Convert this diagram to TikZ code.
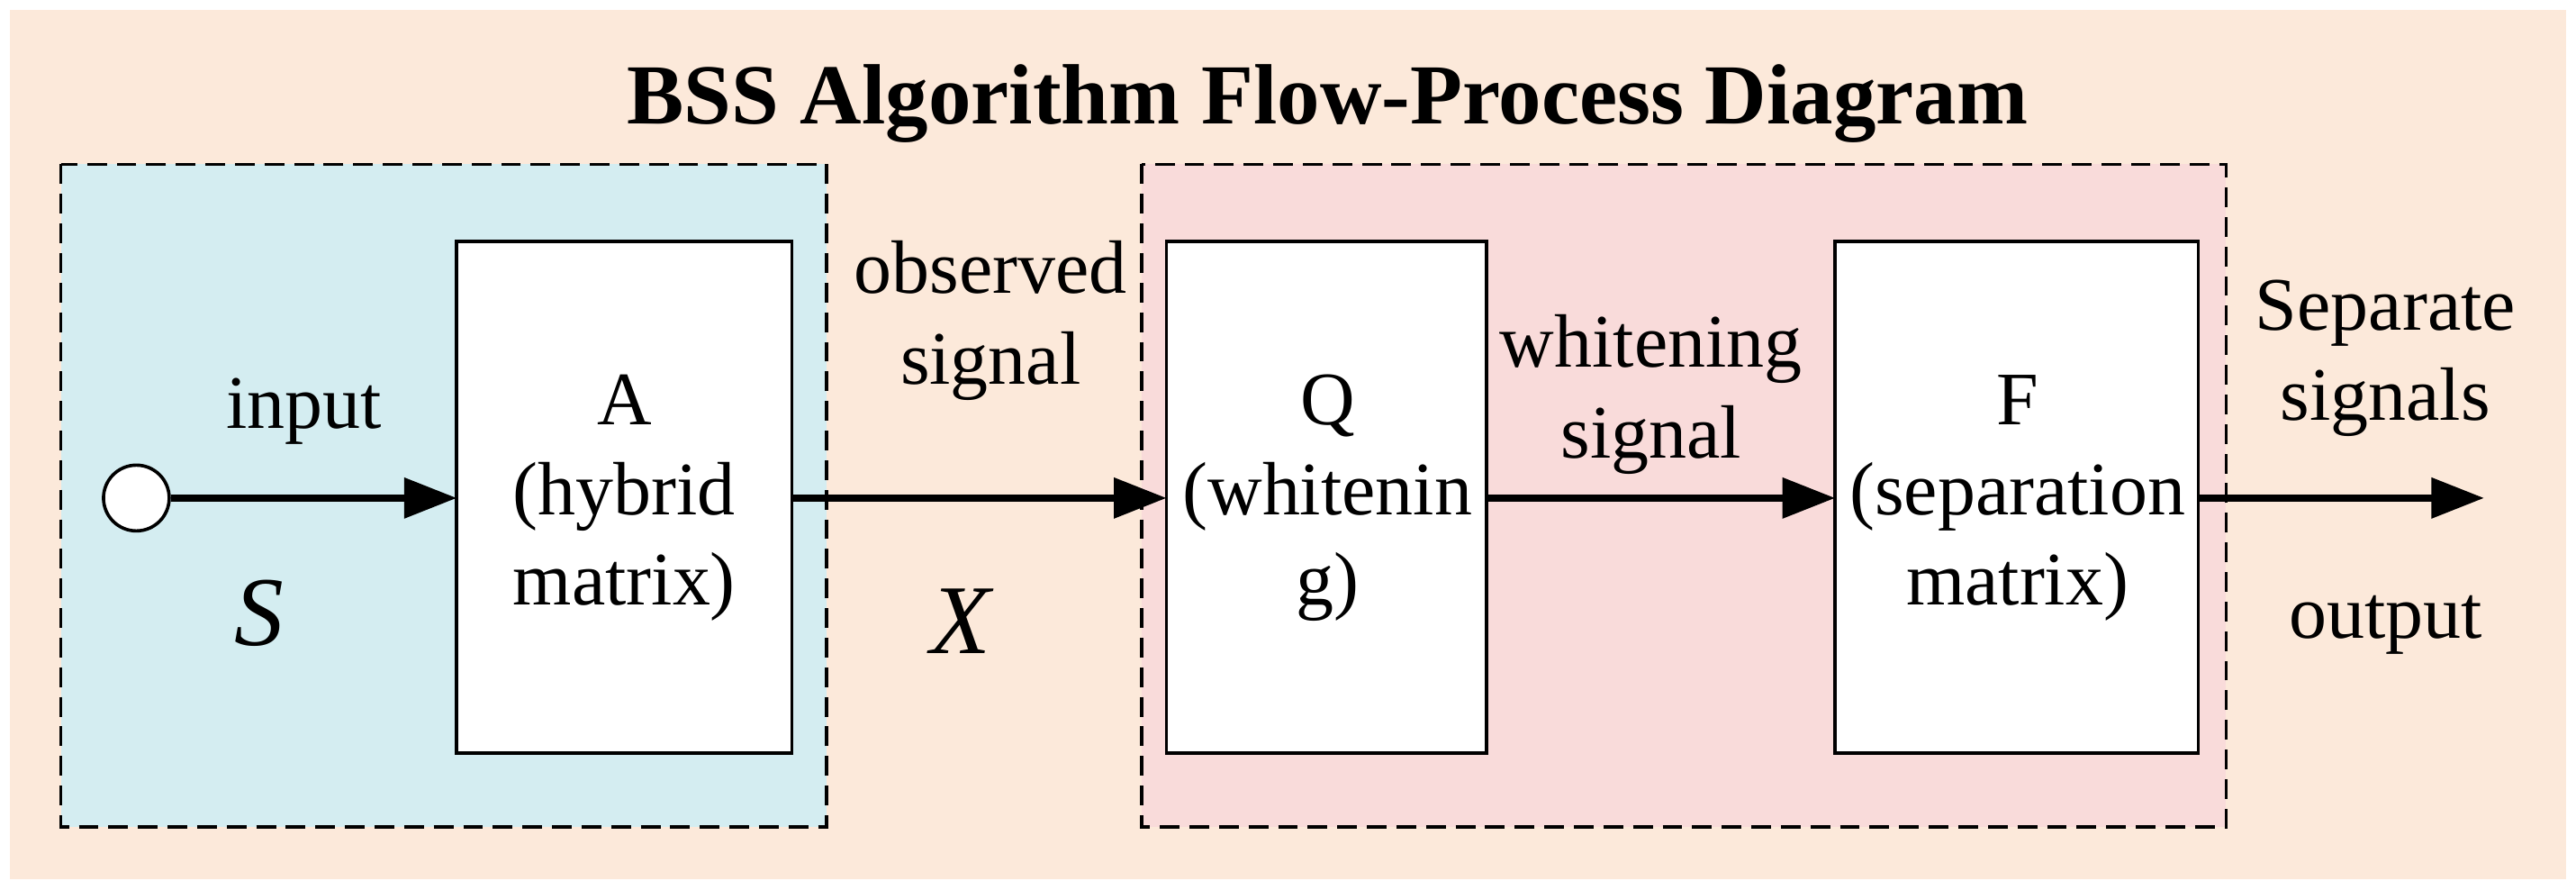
\documentclass[tikz,border=0pt]{standalone}
\usepackage{fontspec}
\setmainfont{Liberation Serif}
\usetikzlibrary{arrows.meta}
\definecolor{peach}{HTML}{FCE9DA}
\definecolor{cyanbg}{HTML}{D4EDF1}
\definecolor{pinkbg}{HTML}{F9DBDA}
\begin{document}
\begin{tikzpicture}[x=0.5pt,y=-0.5pt,
  lbl/.style={font=\fontsize{23}{27.5}\selectfont,align=center,inner sep=0},
  blk/.style={draw=black,line width=1pt,fill=white,minimum width=#1,inner sep=0},
  grp/.style={draw=black,line width=1pt,dash pattern=on 6pt off 3pt},
  arr/.style={line width=2pt,-{Triangle[length=16pt,width=12pt]}}]
\useasboundingbox (0,0) rectangle (1568,541);
\fill[white] (0,0) rectangle (1568,541);
\fill[peach] (6,6) rectangle (1562,535);
\node[font=\bfseries\fontsize{26}{30}\selectfont] (title) at (808,63) {BSS Algorithm Flow-Process Diagram};
\filldraw[grp,fill=cyanbg] (37,100) rectangle (503,503);
\filldraw[grp,fill=pinkbg] (695,100) rectangle (1355,503);
\path[blk/.append style={}] ;
\draw[line width=1pt,fill=white] (278,147) rectangle (482,458);
\draw[line width=1pt,fill=white] (710,147) rectangle (905,458);
\draw[line width=1pt,fill=white] (1117,147) rectangle (1338,458);
\coordinate (Al) at (278,303); \coordinate (Ar) at (482,303);
\coordinate (Ql) at (710,303); \coordinate (Qr) at (905,303);
\coordinate (Fl) at (1117,303); \coordinate (Fr) at (1338,303);
\coordinate (out) at (1512,303);
\node[lbl] (A) at (380,303) {A\\(hybrid\\matrix)};
\node[lbl] (Q) at (808,303) {Q\\(whitenin\\g)};
\node[lbl] (F) at (1228,303) {F\\(separation\\matrix)};
\node[circle,draw=black,line width=1pt,fill=white,minimum size=40\pgflinewidth,inner sep=0,minimum size=20pt] (S0) at (83,303) {};
\draw[arr] (S0) -- (Al);
\draw[arr] (Ar) -- (Ql);
\draw[arr] (Qr) -- (Fl);
\draw[arr] (Fr) -- (out);
\node[lbl] (in) at (185,250) {input};
\node[lbl,font=\itshape\fontsize{30}{34}\selectfont] (s) at (158,373) {S};
\node[lbl] (obs) at (603,195) {observed\\signal};
\node[lbl,font=\itshape\fontsize{30}{34}\selectfont] (x) at (585,378) {X};
\node[lbl] (wh) at (1005,240) {whitening\\signal};
\node[lbl] (sep) at (1452,218) {Separate\\signals};
\node[lbl] (o) at (1452,380) {output};
\end{tikzpicture}
\end{document}
